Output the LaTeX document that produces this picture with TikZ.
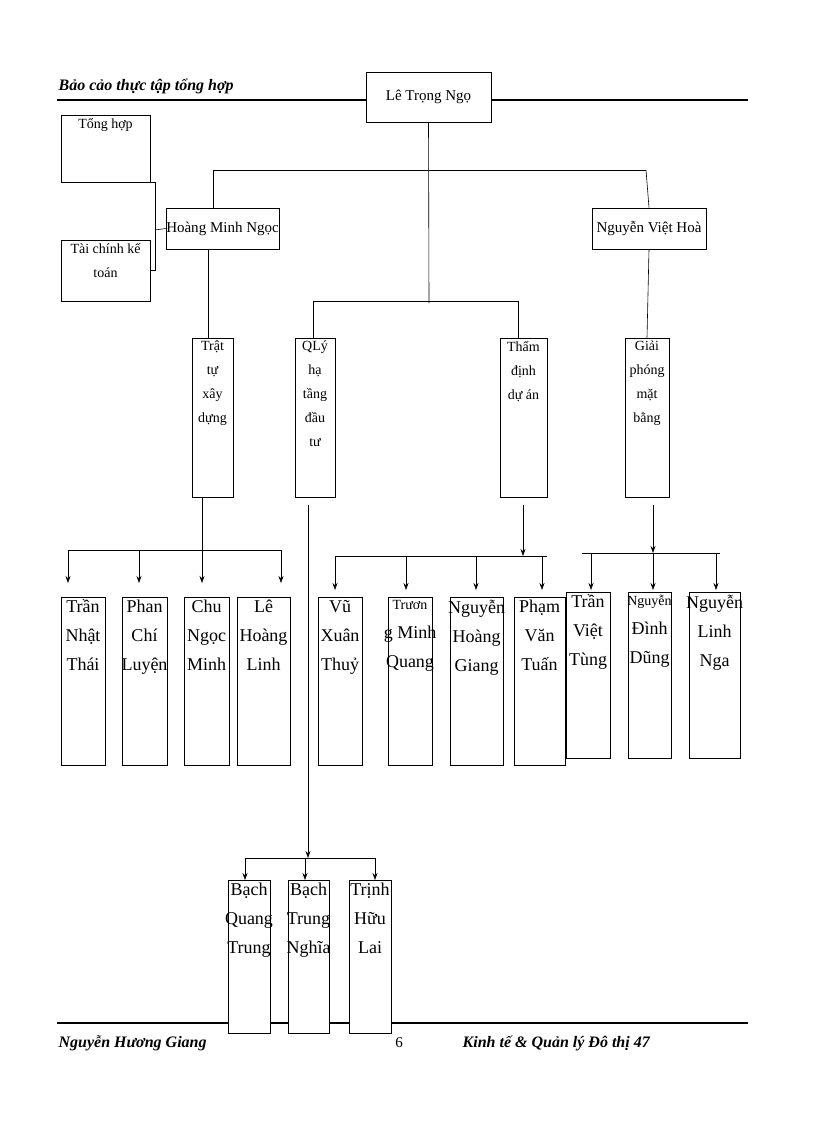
\documentclass[tikz,border=0pt]{standalone}
\usepackage{fontspec}
\setmainfont{Liberation Serif}
\usetikzlibrary{arrows,arrows.meta,positioning}
\newcommand{\orgbox}[6]{%
  \node[box, minimum width={(#4-#2)*1pt}, minimum height={(#5-#3)*1pt}] (#1) at ({(#2+#4)/2},{(#3+#5)/2}) {};
  \node[lbl, below=2pt of #1.north] (#1-t) {#6};}
\begin{document}
\begin{tikzpicture}[x=1pt, y=-1pt, semithick,
    box/.style={draw, thick, fill=white, inner sep=0pt},
    lbl/.style={align=center, inner sep=1pt, font=\fontsize{14}{24}\selectfont},
    big/.style={font=\fontsize{18}{29}\selectfont},
    arrow/.style={-{Stealth[length=7pt,width=5pt]}}
]
\useasboundingbox (0,0) rectangle (816,1123);

% header and footer
\node[anchor=west, font=\bfseries\itshape\fontsize{16}{18}\selectfont] (head) at (55,86) {Bảo cảo thực tập tổng hợp};
\draw[line width=2.5pt] (57,100) -- (748,100);
\draw[line width=2.5pt] (57,1023) -- (748,1023);
\node[anchor=west, font=\bfseries\itshape\fontsize{16}{18}\selectfont] (author) at (55,1043) {Nguyễn Hương Giang};
\node[font=\fontsize{15}{17}\selectfont] (page) at (399,1043) {6};
\node[anchor=west, font=\bfseries\itshape\fontsize{16}{18}\selectfont] (dept) at (459,1043) {Kinh tế \& Quản lý Đô thị 47};

% upper levels
\node[box, minimum width=125pt, minimum height=50pt, font=\fontsize{15}{17}\selectfont] (ngo) at (428.5,97) {Lê Trọng Ngọ};
\orgbox{tonghop}{61}{115}{150}{182}{Tổng hợp}
\orgbox{taichinh}{61}{240}{150}{301}{Tài chính kế\\toán}
\node[box, minimum width=113pt, minimum height=41pt, font=\fontsize{15}{17}\selectfont] (hoang) at (222.5,228.5) {Hoàng Minh Ngọc};
\node[box, minimum width=114pt, minimum height=41pt, font=\fontsize{15}{17}\selectfont] (hoa) at (649,228.5) {Nguyễn Việt Hoà};

\orgbox{trattu}{192}{338}{233}{497}{Trật\\tự\\xây\\dựng}
\orgbox{qly}{295}{338}{335}{497}{QLý\\hạ\\tầng\\đầu\\tư}
\orgbox{thamdinh}{500}{338}{547}{497}{Thẩm\\định\\dự án}
\orgbox{giaiphong}{625}{338}{669}{497}{Giải\\phóng\\mặt\\bằng}

\draw (tonghop.south east) -- ++(5,0) |- (taichinh.east);
\draw (155,230) -- (hoang.west);
\draw (ngo.south) -- (429,303);
\draw[thick] (213,170) -- (646,170);
\draw (213,170) -- (213,208);
\draw (646,170) -- (hoa.north);
\draw (208,249) -- (208,338);
\draw (hoa.south) -- (giaiphong.north);
\draw[thick] (313,301) -- (518,301);
\draw (313,301) -- (313,338);
\draw (518,301) -- (518,338);

% staff
\tikzset{lbl/.append style={big}}
\orgbox{tran}{61}{597}{105}{765}{Trần\\Nhật\\Thái}
\orgbox{phan}{122}{597}{167}{765}{Phan\\Chí\\Luyện}
\orgbox{chu}{184}{597}{229}{765}{Chu\\Ngọc\\Minh}
\orgbox{lehoang}{237}{597}{290}{765}{Lê\\Hoàng\\Linh}
\orgbox{vu}{318}{597}{362}{765}{Vũ\\Xuân\\Thuỷ}
\orgbox{truong}{388}{597}{432}{765}{\fontsize{14}{24}\selectfont Trươn\\g Minh\\Quang}
\orgbox{giang}{450}{597}{503}{765}{Nguyễn\\Hoàng\\Giang}
\orgbox{pham}{514}{597}{565}{765}{Phạm\\Văn\\Tuấn}
\orgbox{tung}{566}{592}{610}{758}{Trần\\Việt\\Tùng}
\orgbox{dung}{628}{592}{671}{758}{\fontsize{14}{24}\selectfont Nguyễn\\Đình\\Dũng}
\orgbox{nga}{689}{592}{740}{758}{Nguyễn\\Linh\\Nga}
\orgbox{quang}{228}{880}{270}{1033}{Bạch\\Quang\\Trung}
\orgbox{nghia}{288}{880}{329}{1033}{Bạch\\Trung\\Nghĩa}
\orgbox{lai}{349}{880}{391}{1033}{Trịnh\\Hữu\\Lai}

% connectors to staff
\draw (202,497) -- (202,550);
\draw[thick] (68,550) -- (281,550);
\foreach \x in {68,139,202,281} \draw[arrow] (\x,550) -- (\x,583);

\draw[arrow] (523,505) -- (523,556);
\draw[thick] (335,556) -- (547,556);
\foreach \x in {335,406,476,542} \draw[arrow] (\x,556) -- (\x,590);

\draw[arrow] (653,505) -- (653,553);
\draw[thick] (582,553) -- (720,553);
\foreach \x in {591,653,716} \draw[arrow] (\x,553) -- (\x,590);

\draw[arrow] (308,505) -- (308,858);
\draw[thick] (245,858) -- (375,858);
\foreach \x in {245,305,375} \draw[arrow] (\x,858) -- (\x,880);
\end{tikzpicture}
\end{document}
